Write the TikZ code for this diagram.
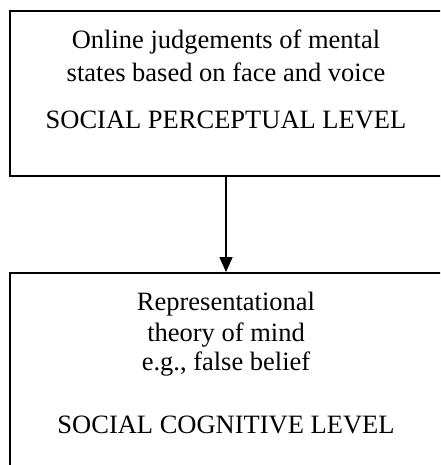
\documentclass[tikz,border=0pt]{standalone}
\usepackage{fontspec}
\setmainfont{Liberation Serif}
\usetikzlibrary{arrows.meta}
\begin{document}
\begin{tikzpicture}[x=1pt,y=-1pt,
  levelbox/.style={draw,line width=1.8pt,minimum width=432pt,inner sep=0pt},
  lbl/.style={anchor=base,inner sep=0pt,font=\fontsize{26.5}{33}\selectfont},
  flow/.style={line width=1.6pt,-{Triangle[length=15pt,width=13pt]}}]
  \clip (0,0) rectangle (440,465);
  % boxes for the two levels
  \node[levelbox,minimum height=165pt] (perc) at (226,93.5) {};
  \node[levelbox,minimum height=207pt] (cogn) at (226,376.5) {};
  % perceptual level text
  \node[lbl] (p1) at (226,48.3) {Online judgements of mental};
  \node[lbl] (p2) at (226,81.7) {states based on face and voice};
  \node[lbl] (p3) at (226,128.3) {SOCIAL PERCEPTUAL LEVEL};
  % cognitive level text
  \node[lbl] (c1) at (226,310) {Representational};
  \node[lbl] (c2) at (226,341.7) {theory of mind};
  \node[lbl] (c3) at (226,370.5) {e.g., false belief};
  \node[lbl] (c4) at (226,433.3) {SOCIAL COGNITIVE LEVEL};
  % link between levels
  \draw[flow] (perc.south) -- (cogn.north);
\end{tikzpicture}
\end{document}
